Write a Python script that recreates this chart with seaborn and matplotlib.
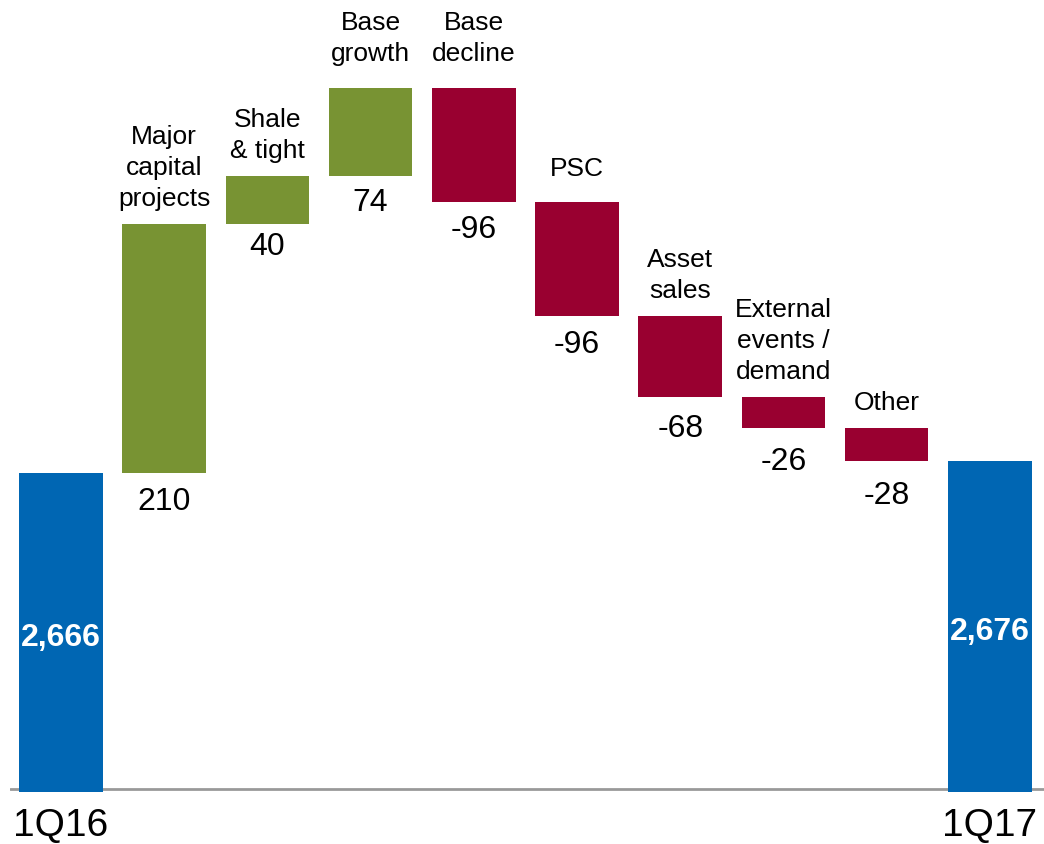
import numpy as np
import pandas as pd
import matplotlib
matplotlib.use("Agg")
import matplotlib.pyplot as plt
import seaborn as sns

# Production bridge 1Q16 -> 1Q17 (MBOED)
steps = ["1Q16", "Major\ncapital\nprojects", "Shale\n& tight", "Base\ngrowth",
         "Base\ndecline", "PSC", "Asset\nsales", "External\nevents /\ndemand",
         "Other", "1Q17"]
start_total = 2666
deltas = [210, 40, 74, -96, -96, -68, -26, -28]
end_total = 2676
axis_floor = 2400
period_labels = ["1Q16", "1Q17"]

BLUE = "#0066B3"
GREEN = "#789333"
RED = "#990030"

# per-step label spacing (pixels): extra lift of step names, gap above values
name_lift_px = [0, 0, 9, 9, 8, 0, 0, 0]
value_gap_px = [16, 11, 14, 15, 16, 19, 21, 22]

sns.set_theme(style="white")
plt.rcParams["font.family"] = ["Liberation Sans", "DejaVu Sans"]
plt.rcParams["text.color"] = "black"

PX = 0.72  # points per pixel at 100 dpi

# floating segments of the waterfall
running = np.cumsum([start_total] + deltas)
bottoms = [axis_floor - 2.5] + list(running[:-1]) + [axis_floor - 2.5]
heights = [start_total - bottoms[0]] + deltas + [end_total - bottoms[-1]]
kinds = ["total"] + ["up" if d > 0 else "down" for d in deltas] + ["total"]

df = pd.DataFrame({"step": steps, "height": heights})

fig = plt.figure(figsize=(10.44, 8.45), dpi=100)
ax = fig.add_axes([10 / 1044, 52 / 845, 1034 / 1044, 793 / 845])

sns.barplot(data=df, x="step", y="height", bottom=np.array(bottoms, dtype=float),
            order=steps, color=BLUE, width=0.81, errorbar=None, ax=ax,
            linewidth=0, saturation=1, zorder=3)

colors = {"total": BLUE, "up": GREEN, "down": RED}
for patch, kind in zip(ax.patches, kinds):
    patch.set_facecolor(colors[kind])
    patch.set_edgecolor("none")

ax.set_xlim(-0.494, 9.525)
ax.set_ylim(axis_floor - 2.5, 3065)
ax.axhline(axis_floor, color="#999999", lw=2, zorder=1)

for s in ax.spines.values():
    s.set_visible(False)
ax.set_yticks([])
ax.set_xlabel("")
ax.set_ylabel("")
ax.set_xticks([0, len(steps) - 1])
ax.set_xticklabels(period_labels, fontsize=28, color="black")
ax.tick_params(axis="x", length=0, pad=11)

# totals inside the blue bars
for i, val in [(0, start_total), (len(steps) - 1, end_total)]:
    ax.annotate(f"{val:,}", (i, (axis_floor + val) / 2), xytext=(0, -4),
                textcoords="offset points", ha="center", va="center",
                color="white", fontsize=23, fontweight="bold", zorder=4)

# step names above, values below each floating bar
for k, d in enumerate(deltas):
    i = k + 1
    lo = min(bottoms[i], bottoms[i] + d)
    hi = max(bottoms[i], bottoms[i] + d)
    ax.annotate(steps[i], (i, hi), xytext=(0, 13.5 + name_lift_px[k] * PX),
                textcoords="offset points", ha="center", va="baseline",
                fontsize=19, linespacing=1.37, color="black")
    ax.annotate(f"{d}", (i, lo), xytext=(0, -(7 + (value_gap_px[k] - 13) * PX)),
                textcoords="offset points", ha="center", va="top",
                fontsize=23, color="black")

fig.savefig("out.png", dpi=100)
